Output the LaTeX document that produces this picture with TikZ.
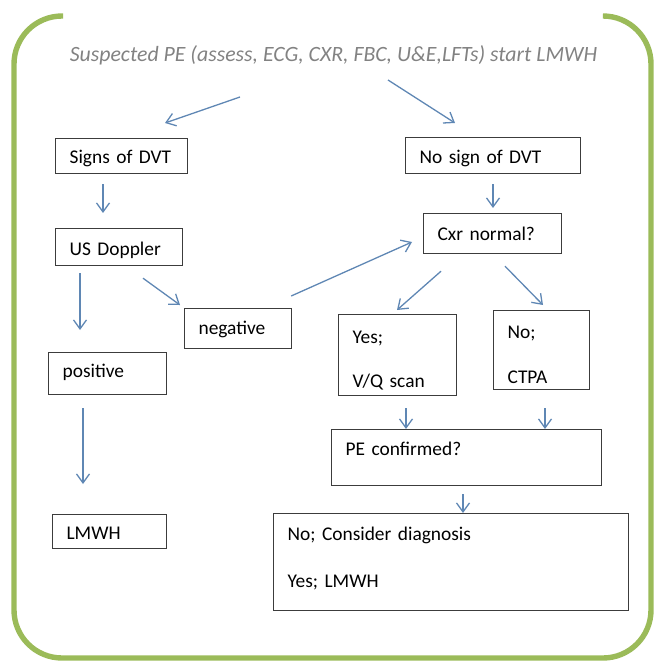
\documentclass[tikz,border=0pt]{standalone}
\usepackage{fontspec}
\setmainfont{Carlito}
\usepackage{tikz}
\usetikzlibrary{arrows.meta}
\definecolor{framegreen}{RGB}{155,187,89}
\definecolor{arrowblue}{RGB}{95,135,180}
\definecolor{boxgray}{RGB}{60,60,60}
\definecolor{titlegray}{RGB}{130,130,130}
\newcommand{\boxfont}{\fontsize{9.7}{11.6}\selectfont}
\newcommand{\titlefont}{\fontsize{10.9}{13}\selectfont\itshape}

\begin{document}
\begin{tikzpicture}[x=0.5pt,y=-0.5pt,
  >={Straight Barb[length=4.5pt,width=6.5pt]},
  flowbox/.style={draw=boxgray, line width=0.6pt, anchor=north west, align=left,
    inner xsep=7pt, inner ysep=0pt, font=\boxfont},
  flowarrow/.style={arrowblue, line width=0.65pt, ->}]

\useasboundingbox (0,0) rectangle (653,662);

\draw[framegreen, line width=2.7pt, rounded corners=24pt]
  (63,16) -- (14,16) -- (14,658) -- (651,658) -- (651,16) -- (605,16);

\node[anchor=base, font=\titlefont, text=titlegray] (title) at (333.5,62)
  {Suspected PE (assess, ECG, CXR, FBC, U\&E,LFTs) start LMWH};

\node[flowbox, text width=52pt, text height=12.5pt, text depth=5pt] (signs) at (55,138) {Signs of DVT};
\node[flowbox, text width=73.5pt, text height=13pt, text depth=5pt] (nosign) at (405,137) {No sign of DVT};
\node[flowbox, text width=49.5pt, text height=13.5pt, text depth=5pt] (doppler) at (55,228) {US Doppler};
\node[flowbox, text width=55pt, text height=13.5pt, text depth=6.5pt] (cxr) at (423,213) {Cxr normal?};
\node[flowbox, text width=39.5pt, text height=13pt, text depth=7pt] (negative) at (184,308) {negative};
\node[flowbox, text width=45pt, text height=12.5pt, text depth=8.5pt] (positive) at (48,352) {positive};
\node[flowbox, text width=45pt, text height=14.5pt, text depth=26pt] (vq) at (338,314) {Yes;\\[10.4pt]V/Q scan};
\node[flowbox, text width=34pt, text height=14pt, text depth=25.5pt] (ctpa) at (493,310) {No;\\[10.9pt]CTPA};
\node[flowbox, text width=121pt, text height=13pt, text depth=15pt] (confirmed) at (331,429) {PE confirmed?};
\node[flowbox, text width=43pt, text height=12.5pt, text depth=4.5pt] (lmwh) at (52,514) {LMWH};
\node[flowbox, text width=163.5pt, text height=13.5pt, text depth=35pt] (outcome) at (273,513)
  {No; Consider diagnosis\\[11.9pt]Yes; LMWH};

\draw[flowarrow] ([shift={(-93.5,35)}]title.base) -- ([shift={(110,-15)}]signs.north west);
\draw[flowarrow] ([shift={(54.5,18)}]title.base) -- ([shift={(50,-14)}]nosign.north west);

\draw[flowarrow] ([shift={(48,10)}]signs.south west) -- ([shift={(48,-15)}]doppler.north west);
\draw[flowarrow] ([shift={(88,10)}]nosign.south west) -- ([shift={(70,-5)}]cxr.north west);

\draw[flowarrow] ([shift={(25,7)}]doppler.south west) -- ([shift={(32,-22)}]positive.north west);
\draw[flowarrow] ([shift={(88,12)}]doppler.south west) -- ([shift={(-4,-3)}]negative.north west);
\draw[flowarrow] ([shift={(-1,-12)}]negative.north east) -- ([shift={(-11,29)}]cxr.north west);

\draw[flowarrow] ([shift={(18,17)}]cxr.south west) -- ([shift={(59,-4)}]vq.north west);
\draw[flowarrow] ([shift={(82,12)}]cxr.south west) -- ([shift={(50,-5)}]ctpa.north west);

\draw[flowarrow] ([shift={(35,13)}]positive.south west) -- ([shift={(31,-30)}]lmwh.north west);
\draw[flowarrow] ([shift={(68,12)}]vq.south west) -- ([shift={(75,0)}]confirmed.north west);
\draw[flowarrow] ([shift={(52,18)}]ctpa.south west) -- ([shift={(214,0)}]confirmed.north west);
\draw[flowarrow] ([shift={(132,8)}]confirmed.south west) -- ([shift={(190,0)}]outcome.north west);
\end{tikzpicture}
\end{document}
